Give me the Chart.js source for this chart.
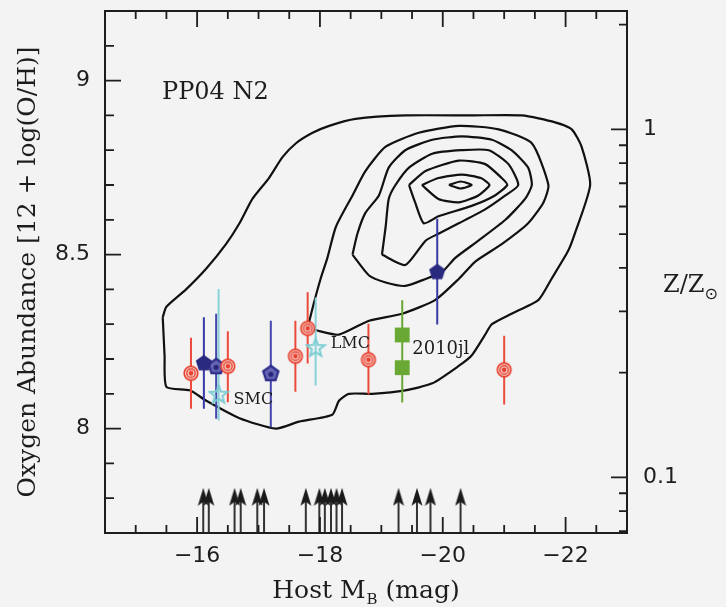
<!DOCTYPE html>
<html>
<head>
<meta charset="utf-8">
<title>PP04 N2 host abundances</title>
<script src="https://cdn.jsdelivr.net/npm/chart.js@4.4.1/dist/chart.umd.min.js"></script>
<style>
  html, body { margin: 0; padding: 0; background: #f3f3f3; }
  canvas { display: block; }
</style>
</head>
<body>
<canvas id="ohChart" width="726" height="607"></canvas>
<script>
// Host oxygen abundance (PP04 N2) against host absolute B magnitude

const INK = '#1d1d1d';
const SOLAR_OH = 8.86;            // 12 + log(O/H) at Z = Zsun
const MB_MIN = -23, MB_MAX = -14.5;
const OH_MIN = 7.7, OH_MAX = 9.2;

const xMajorTicks = [-16, -18, -20, -22];
const yMajorTicks = [8, 8.5, 9];
const zMajorTicks = [0.1, 1];
const zMinorTicks = [0.07, 0.08, 0.09, 0.2, 0.3, 0.4, 0.5, 0.6, 0.7, 0.8, 0.9, 2];

// red bullseyes
const redMB = [-15.90, -16.50, -17.60, -17.80, -18.79, -21.00];
const redOH = [8.159, 8.179, 8.208, 8.288, 8.198, 8.169];
const redLo = [8.057, 8.076, 8.106, 8.187, 8.098, 8.069];
const redHi = [8.261, 8.280, 8.310, 8.392, 8.301, 8.267];

// filled pentagons
const navyMB = [-16.11, -19.91];
const navyOH = [8.189, 8.451];
const navyLo = [8.057, 8.299];
const navyHi = [8.320, 8.603];

// open pentagons
const openMB = [-16.31, -17.20];
const openOH = [8.179, 8.159];
const openLo = [8.028, 8.004];
const openHi = [8.330, 8.310];

// Magellanic clouds
const cloudNames = ['SMC', 'LMC'];
const cloudMB = [-16.35, -17.93];
const cloudOH = [8.100, 8.234];
const cloudLo = [8.023, 8.124];
const cloudHi = [8.401, 8.377];

// SN 2010jl
const jlMB = [-19.34, -19.34];
const jlOH = [8.269, 8.175];
const jlLo = [8.169, 8.075];
const jlHi = [8.369, 8.275];

// hosts with a magnitude but no abundance
const arrowMB = [-16.10, -16.19, -16.61, -16.71, -16.98, -17.09, -17.77, -17.99,
                 -18.08, -18.18, -18.27, -18.36, -19.28, -19.58, -19.80, -20.29];
const ARROW_TIP = 7.83, ARROW_NECK = 7.81;

// SDSS density contours, outermost first
const contour1MB = [-15.44, -15.47, -15.50, -15.88, -16.15, -16.69, -17.28, -17.66, -18.20, -18.31, -18.47,
  -18.85, -19.39, -19.83, -20.26, -20.47, -20.69, -20.80, -21.12, -21.56, -21.77, -22.04, -22.15, -22.40,
  -22.26, -22.10, -21.83, -21.29, -20.47, -19.39, -18.58, -18.15, -17.88, -17.61, -17.39, -17.17, -16.90,
  -16.69, -16.47, -16.15, -15.82, -15.50, -15.44];
const contour1OH = [8.32, 8.21, 8.12, 8.11, 8.08, 8.03, 8.00, 8.02, 8.04, 8.08, 8.10,
  8.10, 8.11, 8.13, 8.18, 8.21, 8.27, 8.30, 8.33, 8.37, 8.43, 8.51, 8.56, 8.70,
  8.81, 8.86, 8.88, 8.90, 8.90, 8.90, 8.89, 8.87, 8.85, 8.82, 8.78, 8.72, 8.66,
  8.59, 8.53, 8.46, 8.40, 8.35, 8.32];
const contour2MB = [-17.80, -17.90, -18.01, -18.12, -18.26, -18.53, -18.74, -19.07, -19.61, -20.26, -20.91,
  -21.45, -21.72, -21.64, -21.39, -20.96, -20.53, -20.26, -19.88, -19.34, -18.80, -18.31, -17.99, -17.80];
const contour2OH = [8.29, 8.36, 8.43, 8.49, 8.58, 8.67, 8.74, 8.81, 8.85, 8.87, 8.86,
  8.82, 8.70, 8.65, 8.59, 8.53, 8.48, 8.43, 8.37, 8.33, 8.31, 8.27, 8.28, 8.29];
const contour3MB = [-18.53, -18.61, -18.74, -18.96, -19.12, -19.39, -19.83, -20.31, -20.80, -21.12, -21.39,
  -21.45, -21.34, -21.02, -20.58, -20.20, -19.99, -19.72, -19.39, -19.07, -18.80, -18.53];
const contour3OH = [8.50, 8.56, 8.62, 8.67, 8.75, 8.80, 8.83, 8.84, 8.83, 8.80, 8.75,
  8.70, 8.66, 8.60, 8.54, 8.49, 8.45, 8.43, 8.41, 8.42, 8.44, 8.50];
const contour4MB = [-19.01, -19.07, -19.12, -19.23, -19.45, -19.83, -20.31, -20.75, -21.07, -21.23, -21.02,
  -20.69, -20.26, -19.93, -19.72, -19.39, -19.01];
const contour4OH = [8.50, 8.58, 8.66, 8.70, 8.75, 8.79, 8.80, 8.80, 8.76, 8.70, 8.67,
  8.63, 8.59, 8.56, 8.54, 8.47, 8.50];
const contour5MB = [-19.45, -19.72, -20.26, -20.69, -20.96, -21.05, -20.85, -20.47, -19.93, -19.69, -19.55, -19.45];
const contour5OH = [8.70, 8.74, 8.77, 8.76, 8.72, 8.70, 8.67, 8.64, 8.61, 8.59, 8.65, 8.70];
const contour6MB = [-19.66, -19.93, -20.31, -20.62, -20.76, -20.58, -20.26, -19.93, -19.66];
const contour6OH = [8.70, 8.72, 8.73, 8.72, 8.70, 8.67, 8.65, 8.66, 8.70];
const contour7MB = [-20.10, -20.29, -20.47, -20.29, -20.10];
const contour7OH = [8.70, 8.71, 8.70, 8.69, 8.70];

const contours = [
  [contour1MB, contour1OH], [contour2MB, contour2OH], [contour3MB, contour3OH],
  [contour4MB, contour4OH], [contour5MB, contour5OH], [contour6MB, contour6OH],
  [contour7MB, contour7OH]
];

const pts = (xs, ys) => xs.map((x, i) => ({ x, y: ys[i] }));
// vertical segments separated by gaps
const bars = (xs, lo, hi) => xs.flatMap((x, i) => [{ x, y: lo[i] }, { x, y: hi[i] }, { x, y: null }]);

function markerCanvas(w, h, draw) {
  const c = document.createElement('canvas');
  c.width = w;
  c.height = h;
  draw(c.getContext('2d'), w / 2, h / 2);
  return c;
}

function polyPath(g, cx, cy, n, rOuter, rInner) {
  g.beginPath();
  const k = rInner ? 2 * n : n;
  for (let i = 0; i < k; i++) {
    const a = -Math.PI / 2 + i * 2 * Math.PI / k;
    const r = rInner && i % 2 ? rInner : rOuter;
    const px = cx + r * Math.cos(a), py = cy + r * Math.sin(a);
    if (i) g.lineTo(px, py); else g.moveTo(px, py);
  }
  g.closePath();
}

const bullseye = markerCanvas(18, 18, (g, cx, cy) => {
  g.fillStyle = '#f6dcd7';
  g.beginPath(); g.arc(cx, cy, 7, 0, 2 * Math.PI); g.fill();
  g.strokeStyle = '#e8412f';
  g.lineWidth = 1.7;
  g.beginPath(); g.arc(cx, cy, 6.8, 0, 2 * Math.PI); g.stroke();
  g.lineWidth = 1.4;
  g.beginPath(); g.arc(cx, cy, 4.2, 0, 2 * Math.PI); g.stroke();
  g.fillStyle = '#e8412f';
  g.beginPath(); g.arc(cx, cy, 2.4, 0, 2 * Math.PI); g.fill();
});

const navyPentagon = markerCanvas(20, 20, (g, cx, cy) => {
  polyPath(g, cx, cy + 0.5, 5, 8.5);
  g.fillStyle = '#29297f';
  g.fill();
});

const openPentagon = markerCanvas(20, 20, (g, cx, cy) => {
  polyPath(g, cx, cy + 0.5, 5, 8);
  g.fillStyle = '#6565b4';
  g.fill();
  g.strokeStyle = '#2c2c8a';
  g.lineWidth = 2.2;
  g.stroke();
  g.fillStyle = '#25257a';
  g.beginPath(); g.arc(cx, cy + 1, 2.6, 0, 2 * Math.PI); g.fill();
});

const cyanStar = markerCanvas(22, 22, (g, cx, cy) => {
  polyPath(g, cx, cy + 1, 5, 9.5, 4);
  g.strokeStyle = '#7ccdd3';
  g.lineWidth = 2;
  g.stroke();
});

const arrowHead = markerCanvas(12, 38, (g, cx, cy) => {
  g.beginPath();
  g.moveTo(cx, cy);
  g.lineTo(cx + 5.5, cy + 18);
  g.lineTo(cx, cy + 14);
  g.lineTo(cx - 5.5, cy + 18);
  g.closePath();
  g.fillStyle = '#1a1a1a';
  g.fill();
});

const markerSet = (data, style, radius) => ({
  data, pointStyle: style, pointRadius: radius, showLine: false
});
const segmentSet = (data, color, width) => ({
  data, showLine: true, pointRadius: 0, borderColor: color, borderWidth: width, spanGaps: false
});

const datasets = [
  markerSet(pts(redMB, redOH), bullseye, 8),
  markerSet(pts(navyMB, navyOH), navyPentagon, 9),
  markerSet(pts(openMB, openOH), openPentagon, 9),
  markerSet(pts(cloudMB, cloudOH), cyanStar, 10),
  { data: pts(jlMB, jlOH), pointStyle: 'rect', pointRadius: 10.5, backgroundColor: '#69a832', borderWidth: 0, showLine: false },
  markerSet(arrowMB.map(x => ({ x, y: ARROW_TIP })), arrowHead, 6),
  segmentSet(bars(redMB, redLo, redHi), '#ec4b3b', 2),
  segmentSet(bars(navyMB, navyLo, navyHi), '#3a3aa6', 2),
  segmentSet(bars(openMB, openLo, openHi), '#4545ad', 2),
  segmentSet(bars(cloudMB, cloudLo, cloudHi), '#88d3d8', 2),
  segmentSet(bars(jlMB, jlLo, jlHi), '#69a832', 2),
  segmentSet(bars(arrowMB, arrowMB.map(() => OH_MIN), arrowMB.map(() => ARROW_NECK)), '#333333', 2),
  ...contours.map(([xs, ys]) => ({
    data: pts(xs, ys), showLine: true, pointRadius: 0, borderColor: '#111111',
    borderWidth: 2.2, tension: 0.2
  }))
];

// inward tick marks on all four sides and the box
const frameTicks = {
  id: 'frameTicks',
  afterDatasetsDraw(chart) {
    const { ctx, chartArea: a, scales: { x, y, zsun } } = chart;
    ctx.save();
    ctx.strokeStyle = INK;
    ctx.lineWidth = 1.8;
    ctx.beginPath();
    for (let k = MB_MIN * 2 + 1; k < MB_MAX * 2; k++) {
      const v = k / 2;
      const px = x.getPixelForValue(v);
      const len = xMajorTicks.includes(v) ? 16 : 8;
      ctx.moveTo(px, a.bottom); ctx.lineTo(px, a.bottom - len);
      ctx.moveTo(px, a.top); ctx.lineTo(px, a.top + len);
    }
    for (let k = Math.round(OH_MIN * 10) + 1; k < Math.round(OH_MAX * 10); k++) {
      const py = y.getPixelForValue(k / 10);
      const len = k % 5 === 0 ? 16 : 9;
      ctx.moveTo(a.left, py); ctx.lineTo(a.left + len, py);
    }
    zMajorTicks.concat(zMinorTicks).forEach(v => {
      const py = zsun.getPixelForValue(v);
      const len = zMajorTicks.includes(v) ? 16 : 8;
      ctx.moveTo(a.right, py); ctx.lineTo(a.right - len, py);
    });
    ctx.stroke();
    ctx.lineWidth = 2;
    ctx.strokeRect(a.left, a.top, a.right - a.left, a.bottom - a.top);
    ctx.restore();
  }
};

// panel label, object names and the titles with subscripts
const annotations = {
  id: 'annotations',
  afterDraw(chart) {
    const { ctx, chartArea: a, scales: { x, y } } = chart;
    ctx.save();
    ctx.fillStyle = INK;
    ctx.textAlign = 'left';
    ctx.textBaseline = 'alphabetic';

    ctx.font = '24px "DejaVu Serif"';
    ctx.fillText('PP04 N2', a.left + 57, a.top + 88);

    ctx.font = '16px "DejaVu Serif"';
    const nameDy = [10, 1];
    cloudNames.forEach((name, i) => {
      ctx.fillText(name, x.getPixelForValue(cloudMB[i]) + 15, y.getPixelForValue(cloudOH[i]) + nameDy[i]);
    });
    ctx.font = '18px "DejaVu Serif"';
    ctx.fillText('2010jl', x.getPixelForValue(jlMB[0]) + 10, y.getPixelForValue(jlOH[0]) + 19);

    // Host M_B (mag)
    const big = '25px "DejaVu Serif"', small = '15px "DejaVu Serif"';
    ctx.font = big;
    const w1 = ctx.measureText('Host M').width;
    const w3 = ctx.measureText(' (mag)').width;
    ctx.font = small;
    const w2 = ctx.measureText('B').width + 1;
    const tx = (a.left + a.right) / 2 - (w1 + w2 + w3) / 2;
    ctx.font = big;
    ctx.fillText('Host M', tx, 598);
    ctx.font = small;
    ctx.fillText('B', tx + w1 + 1, 604);
    ctx.font = big;
    ctx.fillText(' (mag)', tx + w1 + w2, 598);

    // Z / Z_sun
    ctx.font = '24px "DejaVu Serif"';
    ctx.fillText('Z/Z', 663, 292);
    const wz = ctx.measureText('Z/Z').width;
    ctx.font = '16px "DejaVu Sans"';
    ctx.fillText('\u2299', 663 + wz, 299);
    ctx.restore();
  }
};

const TICK_FONT = { family: 'DejaVu Sans', size: 22 };
const bare = { display: false, drawTicks: false };

new Chart(document.getElementById('ohChart'), {
  type: 'scatter',
  data: { datasets },
  options: {
    responsive: false,
    animation: false,
    events: [],
    layout: { padding: { top: 10, left: 0, right: 0, bottom: 0 } },
    plugins: { legend: { display: false }, tooltip: { enabled: false } },
    scales: {
      x: {
        type: 'linear', position: 'bottom', min: MB_MIN, max: MB_MAX, reverse: true, bounds: 'data',
        grid: bare, border: { display: false },
        afterBuildTicks: s => { s.ticks = xMajorTicks.map(v => ({ value: v })); },
        ticks: { font: TICK_FONT, color: INK, padding: 10, maxRotation: 0, autoSkip: false,
                 callback: v => '\u2212' + Math.abs(v) },
        afterFit: s => { s.height = 74; s.paddingLeft = 0; s.paddingRight = 0; }
      },
      y: {
        type: 'linear', position: 'left', min: OH_MIN, max: OH_MAX, bounds: 'data',
        grid: bare, border: { display: false },
        afterBuildTicks: s => { s.ticks = yMajorTicks.map(v => ({ value: v })); },
        ticks: { font: TICK_FONT, color: INK, padding: 15, callback: v => String(v) },
        title: {
          display: true, text: 'Oxygen Abundance [12 + log(O/H)]', color: INK,
          font: { family: 'DejaVu Serif', size: 25 }, padding: { top: 13, bottom: 0 }
        },
        afterFit: s => { s.width = 105; s.paddingTop = 0; s.paddingBottom = 0; }
      },
      zsun: {
        type: 'logarithmic', axis: 'y', position: 'right', bounds: 'data',
        min: Math.pow(10, OH_MIN - SOLAR_OH), max: Math.pow(10, OH_MAX - SOLAR_OH),
        grid: bare, border: { display: false },
        afterBuildTicks: s => { s.ticks = zMajorTicks.map(v => ({ value: v })); },
        ticks: { font: TICK_FONT, color: INK, padding: 16, callback: v => String(v) },
        afterFit: s => { s.width = 99; s.paddingTop = 0; s.paddingBottom = 0; }
      }
    }
  },
  plugins: [frameTicks, annotations]
});
</script>
</body>
</html>
